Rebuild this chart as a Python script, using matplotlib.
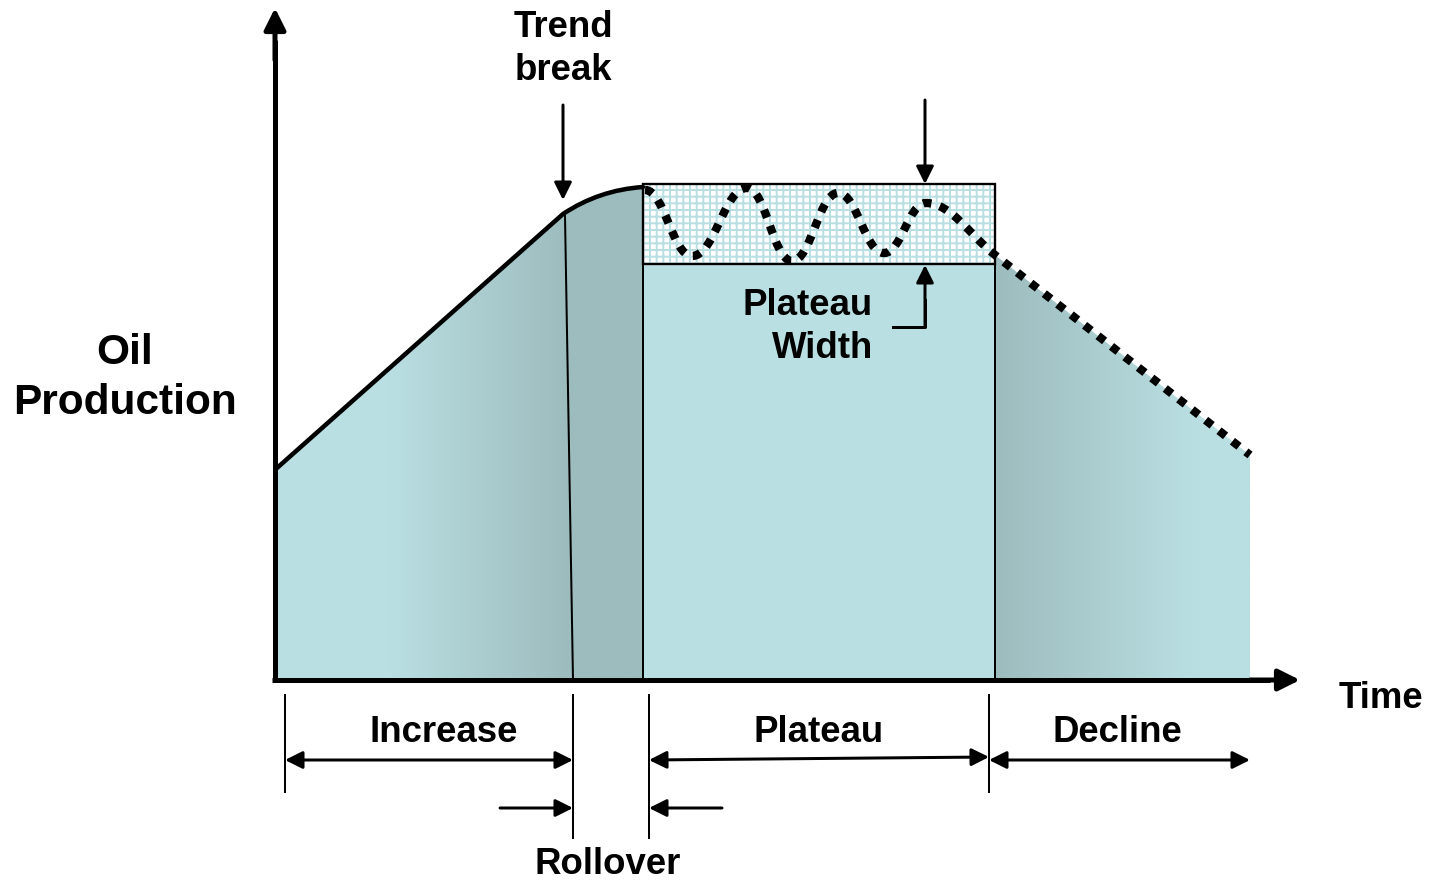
#!/usr/bin/env python3
# -*- coding: utf-8 -*-

import numpy as np
import matplotlib
matplotlib.use("Agg")
import matplotlib.pyplot as plt
from matplotlib.path import Path
from matplotlib.patches import PathPatch, Rectangle, Polygon
from matplotlib.colors import LinearSegmentedColormap

# ------------------ profile of the sketch (pixel units, y downwards) ------------------
baseline_y = 680
rise_x = [277, 563]            # linear increase up to the trend break
rise_y = [468, 214]
roll_ctrl = [599, 190]         # bezier control of the rollover bend
roll_end = [643, 187]
plateau_x = [643, 995]
plateau_band = [184, 264]      # top / bottom of the plateau width box
wave_x = [645, 692, 747, 792, 838, 884, 926]
wave_y = [190, 256, 188, 261, 193, 253, 203]
decline_x = [995, 1250]
decline_y = [255, 455]

# phase boundaries on the time axis (bottom brackets)
phase_names = ["Increase", "Rollover", "Plateau", "Decline"]
phase_edges = [285, 573, 649, 989, 1250]

LIGHT = "#badfe2"
DARK = "#9dbcbe"
W, H, DPI = 1433, 883, 120

plt.rcParams["font.family"] = ["Liberation Sans", "DejaVu Sans"]
plt.rcParams["font.weight"] = "bold"
plt.rcParams["hatch.linewidth"] = 1.2
plt.rcParams["hatch.color"] = LIGHT

fig = plt.figure(figsize=(W / DPI, H / DPI), dpi=DPI)
ax = fig.add_axes([0, 0, 1, 1])
ax.set_axis_off()


def gradient(x0, x1, stops, clip):
    cmap = LinearSegmentedColormap.from_list("g", stops)
    im = ax.imshow(np.linspace(0, 1, 256).reshape(1, -1), cmap=cmap, aspect="auto",
                   extent=(x0, x1, baseline_y, plateau_band[0] - 5),
                   interpolation="bilinear", zorder=1)
    patch = Polygon(clip, closed=True, transform=ax.transData, facecolor="none", edgecolor="none")
    ax.add_patch(patch)
    im.set_clip_path(patch)


# ------------------ increase + rollover area ------------------
t = np.linspace(0, 1, 40)
p0, p1, p2 = np.array([rise_x[1], rise_y[1]]), np.array(roll_ctrl), np.array(roll_end)
bend = ((1 - t) ** 2)[:, None] * p0 + (2 * (1 - t) * t)[:, None] * p1 + (t ** 2)[:, None] * p2
inc_poly = [(rise_x[0], baseline_y), (rise_x[0], rise_y[0])] + [tuple(b) for b in bend] + \
           [(roll_end[0], baseline_y)]
k = (rise_x[1] + 5 - rise_x[0]) / (roll_end[0] - rise_x[0])
gradient(rise_x[0], roll_end[0], [(0, LIGHT), (0.3, LIGHT), (k, DARK), (1, DARK)], inc_poly)

# ------------------ plateau ------------------
ax.add_patch(Rectangle((plateau_x[0], plateau_band[1]), plateau_x[1] - plateau_x[0],
                       baseline_y - plateau_band[1], facecolor=LIGHT, edgecolor="none", zorder=1))
ax.add_patch(Rectangle((plateau_x[0], plateau_band[0]), plateau_x[1] - plateau_x[0],
                       plateau_band[1] - plateau_band[0], facecolor="white", edgecolor=LIGHT,
                       hatch="+++", lw=0, zorder=1))
ax.add_patch(Rectangle((plateau_x[0], plateau_band[0]), plateau_x[1] - plateau_x[0],
                       plateau_band[1] - plateau_band[0], facecolor="none", edgecolor="black",
                       lw=1.4, zorder=2))

# ------------------ decline ------------------
dec_poly = [(decline_x[0], baseline_y), (decline_x[0], decline_y[0]),
            (decline_x[1], decline_y[1]), (decline_x[1], baseline_y)]
gradient(decline_x[0], decline_x[1], [(0, DARK), (0.8, LIGHT), (1, LIGHT)], dec_poly)

# ------------------ outlines ------------------
curve = Path([(rise_x[0], rise_y[0]), (rise_x[1], rise_y[1]), tuple(roll_ctrl), tuple(roll_end)],
             [Path.MOVETO, Path.LINETO, Path.CURVE3, Path.CURVE3])
ax.add_patch(PathPatch(curve, fill=False, lw=2.7, edgecolor="black", capstyle="round",
                       joinstyle="round", zorder=4))
ax.plot([rise_x[1] + 2, phase_edges[1]], [rise_y[1] + 2, baseline_y], color="black", lw=1.2, zorder=3)
ax.plot([plateau_x[0]] * 2, [roll_end[1], baseline_y], color="black", lw=1.2, zorder=3)
ax.plot([plateau_x[1]] * 2, [plateau_band[0], baseline_y], color="black", lw=1.2, zorder=3)

# dotted wave on the plateau, then the dotted decline
verts = [(wave_x[0], wave_y[0])]
codes = [Path.MOVETO]
for i in range(1, len(wave_x)):
    dx = wave_x[i] - wave_x[i - 1]
    verts += [(wave_x[i - 1] + 0.42 * dx, wave_y[i - 1]), (wave_x[i] - 0.42 * dx, wave_y[i]),
              (wave_x[i], wave_y[i])]
    codes += [Path.CURVE4] * 3
slope = (decline_y[1] - decline_y[0]) / (decline_x[1] - decline_x[0])
verts += [(wave_x[-1] + 25, wave_y[-1]), (decline_x[0] - 25, decline_y[0] - 25 * slope),
          (decline_x[0], decline_y[0]), (decline_x[1], decline_y[1])]
codes += [Path.CURVE4] * 3 + [Path.LINETO]
ax.add_patch(PathPatch(Path(verts, codes), fill=False, lw=5.0, edgecolor="black",
                       linestyle=(0, (1, 1.05)), capstyle="butt", zorder=5))

# ------------------ axes ------------------
def arrow(tail, tip, style="-|>", lw=1.8, ms=22):
    ax.annotate("", xy=tip, xytext=tail,
                arrowprops=dict(arrowstyle=f"{style},head_length=0.4,head_width=0.2",
                                lw=lw, color="black", shrinkA=0, shrinkB=0,
                                mutation_scale=ms), zorder=6)


ax.plot([275, 275], [baseline_y + 2, 40], color="black", lw=3, solid_capstyle="butt", zorder=6)
arrow((275, 60), (275, 8), lw=3, ms=27)
ax.plot([272, 1270], [baseline_y, baseline_y], color="black", lw=3, solid_capstyle="butt", zorder=6)
arrow((1250, baseline_y), (1300, baseline_y), lw=3, ms=27)

txt = dict(fontsize=22, fontweight="bold", color="black", ha="center", va="center")
ax.text(125, 378, "Oil\nProduction", fontsize=25.4, fontweight="bold", ha="center", va="center",
        linespacing=1.32)
ax.text(1381, 699, "Time", **txt)

# trend break
ax.text(563, 49, "Trend\nbreak", linespacing=1.33, **txt)
arrow((563, 105), (563, 200))

# plateau width
arrow((925, 100), (925, plateau_band[0]))
ax.plot([893, 925, 925], [327, 327, 300], color="black", lw=1.8, zorder=6)
arrow((925, 327), (925, plateau_band[1] + 1))
ax.text(873, 327, "Plateau\nWidth", fontsize=22, fontweight="bold", ha="right", va="center",
        multialignment="right", linespacing=1.33)

# ------------------ phase brackets ------------------
for x, y1 in zip(phase_edges[:4], [792, 838, 838, 792]):
    ax.plot([x, x], [695, y1], color="black", lw=1.2)
arrow((phase_edges[0], 760), (phase_edges[1], 760), style="<|-|>")
arrow((phase_edges[2], 760), (phase_edges[3], 757), style="<|-|>")
arrow((phase_edges[3], 760), (phase_edges[4], 760), style="<|-|>")
arrow((500, 808), (phase_edges[1], 808))
arrow((722, 808), (phase_edges[2], 808))

label_pos = [(444, 732), (608, 864), (819, 732), (1117, 732)]
for name, (x, y) in zip(phase_names, label_pos):
    ax.text(x, y, name, **txt)

ax.set_xlim(0, W)
ax.set_ylim(H, 0)
fig.savefig("out.png", dpi=DPI)
